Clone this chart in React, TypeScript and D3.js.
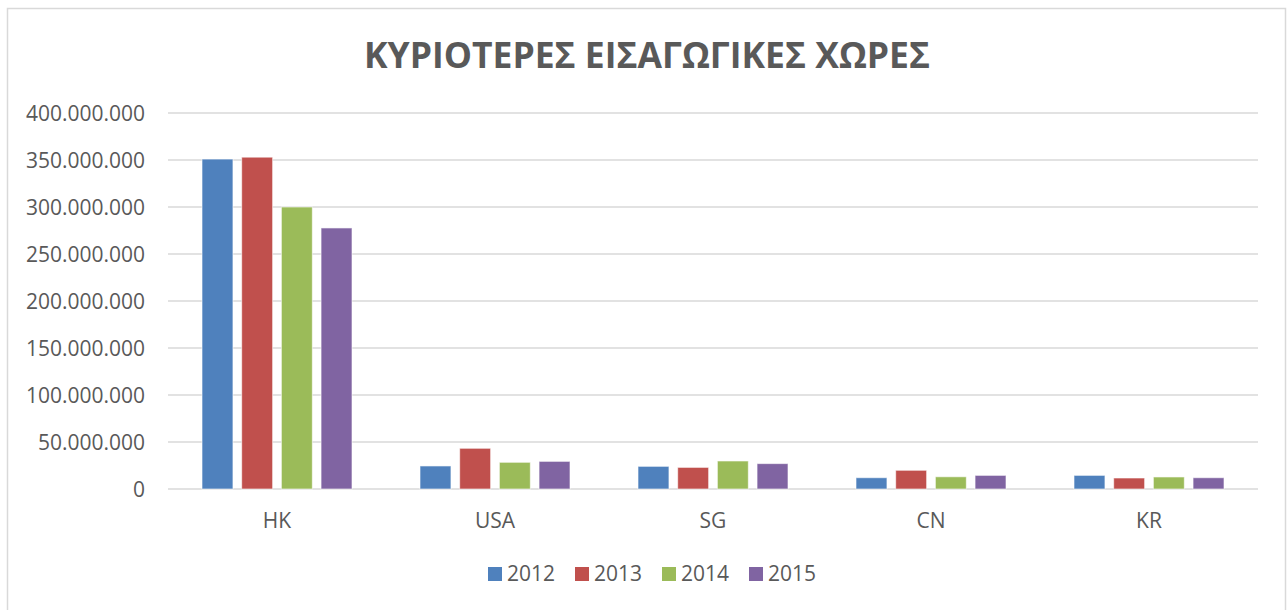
import React from "react";
import * as d3 from "d3";

const categories = ["HK", "USA", "SG", "CN", "KR"];
const years = ["2012", "2013", "2014", "2015"];
const values2012 = [351000000, 24500000, 24100000, 12000000, 14500000];
const values2013 = [353000000, 43300000, 23000000, 19900000, 11700000];
const values2014 = [300000000, 28400000, 29800000, 13000000, 12800000];
const values2015 = [277700000, 29400000, 27000000, 14500000, 12000000];
const yTicks = [0, 50000000, 100000000, 150000000, 200000000, 250000000, 300000000, 350000000, 400000000];
const colors = ["#4F81BD", "#C0504D", "#9BBB59", "#8064A2"];

const title = "ΚΥΡΙΟΤΕΡΕΣ ΕΙΣΑΓΩΓΙΚΕΣ ΧΩΡΕΣ";

const W = 1288;
const H = 610;
const font = "'Open Sans', sans-serif";
const textColor = "#595959";

const App = () => {
  const series = [values2012, values2013, values2014, values2015];
  const margin = { left: 168, right: 30, top: 113, bottom: 121 };

  const x0 = d3.scaleBand().domain(categories).range([margin.left, W - margin.right]).padding(0);
  const x1 = d3.scaleBand().domain(years).range([34, 184]).paddingInner(0.22);
  const y = d3.scaleLinear().domain([0, 400000000]).range([H - margin.bottom, margin.top]);

  // greek style thousands separator
  const fmt = (v) => (v === 0 ? "0" : d3.format(",")(v).replace(/,/g, "."));

  return (
    <div style={{ position: "absolute", left: 0, top: 0 }}>
      <svg width={W} height={H} style={{ display: "block", background: "#fff" }}>
        <rect x={7.5} y={8.5} width={1278} height={640} fill="#fff" stroke="#D9D9D9" strokeWidth={1.5} />

        <text x={647} y={68} textAnchor="middle" fontFamily={font} fontWeight="bold" fontSize={35.5} fill={textColor}>
          {title}
        </text>

        {/* gridlines + y labels */}
        {yTicks.map((t) => (
          <g key={t}>
            <line x1={margin.left} x2={W - margin.right} y1={y(t)} y2={y(t)} stroke="#D9D9D9" strokeWidth={1.5} />
            <text x={145} y={y(t)} dy="0.36em" textAnchor="end" fontFamily={font} fontSize={21} fill={textColor}>
              {fmt(t)}
            </text>
          </g>
        ))}

        {/* bars */}
        {categories.map((c, ci) => (
          <g key={c} transform={`translate(${x0(c)},0)`}>
            {years.map((yr, si) => (
              <rect
                key={yr}
                x={x1(yr)}
                y={y(series[si][ci])}
                width={x1.bandwidth()}
                height={y(0) - y(series[si][ci])}
                fill={colors[si]}
                stroke="#fff"
                strokeOpacity={0.6}
                strokeWidth={1}
              />
            ))}
            <text
              x={x0.bandwidth() / 2}
              y={528}
              textAnchor="middle"
              fontFamily={font}
              fontSize={21}
              fill={textColor}
            >
              {c}
            </text>
          </g>
        ))}

        {/* legend */}
        {years.map((yr, i) => (
          <g key={yr} transform={`translate(${488 + i * 87},567)`}>
            <rect width={14} height={14} fill={colors[i]} />
            <text x={19} y={14} fontFamily={font} fontSize={21} fill={textColor}>
              {yr}
            </text>
          </g>
        ))}
      </svg>
    </div>
  );
};

export default App;
